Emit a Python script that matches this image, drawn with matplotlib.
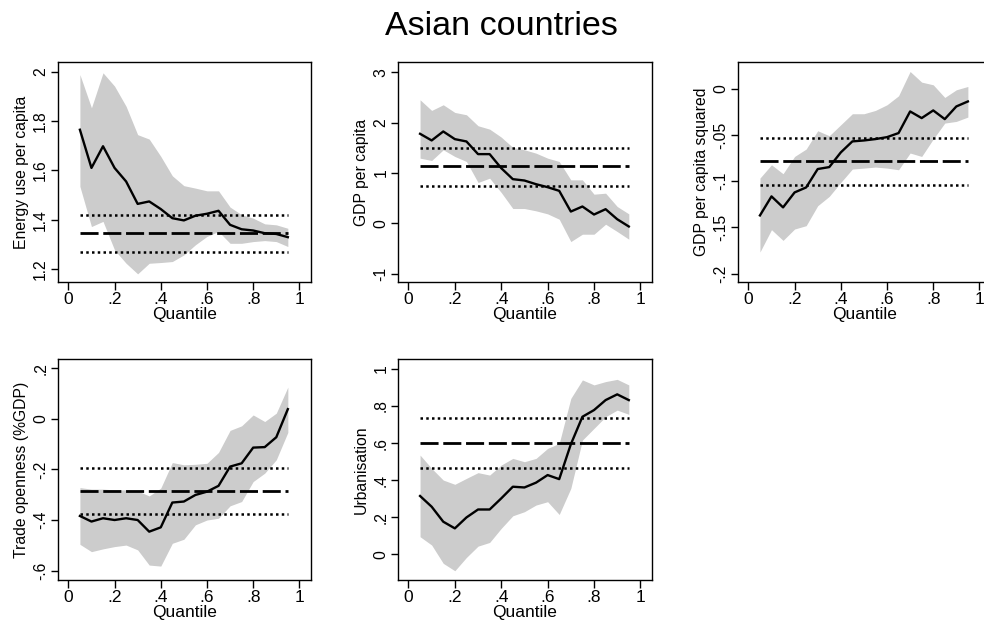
import matplotlib
matplotlib.use("Agg")
import matplotlib.pyplot as plt
import numpy as np

plt.rcParams['font.family'] = ['Liberation Sans', 'DejaVu Sans']

quantiles = [0.05, 0.10, 0.15, 0.20, 0.25, 0.30, 0.35, 0.40, 0.45, 0.50,
             0.55, 0.60, 0.65, 0.70, 0.75, 0.80, 0.85, 0.90, 0.95]

# Panel 1: Energy use per capita
energy_coef = [1.765, 1.61, 1.698, 1.61, 1.555, 1.464, 1.474, 1.443, 1.406, 1.397,
               1.416, 1.424, 1.436, 1.379, 1.361, 1.356, 1.345, 1.342, 1.329]
energy_hi = [1.989, 1.854, 1.996, 1.942, 1.86, 1.745, 1.727, 1.657, 1.578, 1.538,
             1.528, 1.517, 1.517, 1.451, 1.42, 1.406, 1.383, 1.379, 1.365]
energy_lo = [1.535, 1.372, 1.393, 1.277, 1.223, 1.18, 1.223, 1.226, 1.23, 1.257,
             1.298, 1.332, 1.352, 1.304, 1.304, 1.311, 1.315, 1.311, 1.291]
energy_ols = [1.268, 1.345, 1.42]

# Panel 2: GDP per capita
gdp_coef = [1.777, 1.645, 1.823, 1.671, 1.625, 1.374, 1.374, 1.096, 0.878, 0.851,
            0.778, 0.719, 0.646, 0.236, 0.336, 0.177, 0.283, 0.084, -0.06]
gdp_hi = [2.451, 2.24, 2.352, 2.2, 2.154, 1.936, 1.869, 1.711, 1.506, 1.46,
          1.393, 1.294, 1.228, 0.864, 0.864, 0.58, 0.6, 0.336, 0.19]
gdp_lo = [1.294, 1.248, 1.46, 1.327, 1.228, 0.812, 0.897, 0.613, 0.296, 0.296,
          0.25, 0.19, 0.084, -0.359, -0.213, -0.213, -0.015, -0.16, -0.312]
gdp_ols = [0.745, 1.129, 1.493]

# Panel 3: GDP per capita squared
gdp2_coef = [-0.137, -0.1164, -0.1283, -0.1121, -0.1067, -0.0868, -0.0847, -0.0688, -0.0569, -0.0559,
             -0.0544, -0.0523, -0.0479, -0.0245, -0.0317, -0.0234, -0.0328, -0.0191, -0.0137]
gdp2_hi = [-0.0966, -0.0822, -0.0919, -0.0732, -0.0652, -0.0454, -0.0508, -0.0389, -0.027, -0.027,
           -0.0234, -0.0173, -0.0076, 0.0187, 0.0072, 0.0043, -0.0094, -0.0011, 0.0025]
gdp2_lo = [-0.1766, -0.1524, -0.164, -0.1517, -0.1481, -0.1265, -0.1164, -0.1013, -0.0868, -0.0858,
           -0.0847, -0.0858, -0.0876, -0.0695, -0.0732, -0.0544, -0.0371, -0.0353, -0.0306]
gdp2_ols = [-0.1038, -0.0786, -0.0533]

# Panel 4: Trade openness (%GDP)
trade_coef = [-0.384, -0.406, -0.393, -0.4, -0.393, -0.4, -0.446, -0.429, -0.331, -0.327,
              -0.301, -0.288, -0.265, -0.189, -0.176, -0.114, -0.112, -0.073, 0.038]
trade_hi = [-0.272, -0.278, -0.278, -0.281, -0.281, -0.285, -0.305, -0.274, -0.173, -0.182,
            -0.18, -0.176, -0.133, -0.046, -0.028, 0.015, -0.011, 0.022, 0.125]
trade_lo = [-0.496, -0.525, -0.514, -0.505, -0.499, -0.518, -0.578, -0.582, -0.492, -0.476,
            -0.419, -0.4, -0.393, -0.344, -0.327, -0.248, -0.215, -0.162, -0.054]
trade_ols = [-0.376, -0.285, -0.193]

# Panel 5: Urbanisation
urb_coef = [0.314, 0.256, 0.175, 0.139, 0.198, 0.241, 0.241, 0.301, 0.364, 0.36,
            0.386, 0.427, 0.405, 0.593, 0.742, 0.778, 0.832, 0.863, 0.832]
urb_hi = [0.535, 0.463, 0.4, 0.377, 0.409, 0.44, 0.427, 0.481, 0.517, 0.499,
          0.517, 0.571, 0.598, 0.841, 0.941, 0.914, 0.932, 0.944, 0.914]
urb_lo = [0.094, 0.049, -0.05, -0.09, -0.018, 0.043, 0.063, 0.139, 0.207, 0.229,
          0.265, 0.283, 0.214, 0.355, 0.616, 0.679, 0.742, 0.778, 0.755]
urb_ols = [0.463, 0.598, 0.733]

x_ticks = [0, 0.2, 0.4, 0.6, 0.8, 1.0]
x_ticklabels = ["0", ".2", ".4", ".6", ".8", "1"]

panels = [
    dict(label="Energy use per capita", coef=energy_coef, hi=energy_hi, lo=energy_lo, ols=energy_ols,
         yticks=[1.2, 1.4, 1.6, 1.8, 2.0], yticklabels=["1.2", "1.4", "1.6", "1.8", "2"],
         ylim=(1.147, 2.04), pos=[0.0589, 0.5459, 0.2571, 0.3543]),
    dict(label="GDP per capita", coef=gdp_coef, hi=gdp_hi, lo=gdp_lo, ols=gdp_ols,
         yticks=[-1, 0, 1, 2, 3], yticklabels=["-1", "0", "1", "2", "3"],
         ylim=(-1.16, 3.2), pos=[0.4045, 0.5459, 0.2581, 0.3543]),
    dict(label="GDP per capita squared", coef=gdp2_coef, hi=gdp2_hi, lo=gdp2_lo, ols=gdp2_ols,
         yticks=[-0.2, -0.15, -0.1, -0.05, 0], yticklabels=["-.2", "-.15", "-.1", "-.05", "0"],
         ylim=(-0.209, 0.029), pos=[0.750, 0.5459, 0.2571, 0.3543]),
    dict(label="Trade openness (%GDP)", coef=trade_coef, hi=trade_hi, lo=trade_lo, ols=trade_ols,
         yticks=[-0.6, -0.4, -0.2, 0, 0.2], yticklabels=["-.6", "-.4", "-.2", "0", ".2"],
         ylim=(-0.637, 0.236), pos=[0.0589, 0.066, 0.2571, 0.3559]),
    dict(label="Urbanisation", coef=urb_coef, hi=urb_hi, lo=urb_lo, ols=urb_ols,
         yticks=[0, 0.2, 0.4, 0.6, 0.8, 1.0], yticklabels=["0", ".2", ".4", ".6", ".8", "1"],
         ylim=(-0.14, 1.054), pos=[0.4045, 0.066, 0.2581, 0.3559]),
]

fig = plt.figure(figsize=(9.84, 6.21), dpi=100)
fig.patch.set_facecolor("white")

fs_x = 12.5
fs_y = 11.3
for p in panels:
    ax = fig.add_axes(p["pos"])
    q = np.array(quantiles)
    ax.fill_between(q, p["lo"], p["hi"], color="#cccccc", linewidth=0, zorder=1)
    ax.plot(q, p["coef"], color="black", linewidth=1.7, zorder=3)
    lo, mid, hi = p["ols"]
    ax.hlines([mid], q[0], q[-1], colors="black", linestyles=(0, (6.5, 1.7)), linewidth=2.0, zorder=2)
    ax.hlines([lo, hi], q[0], q[-1], colors="black", linestyles=(0, (1, 1.3)), linewidth=1.8, zorder=2)
    ax.set_xlim(-0.045, 1.05)
    ax.set_ylim(*p["ylim"])
    ax.set_xticks(x_ticks)
    ax.set_xticklabels(x_ticklabels, fontsize=fs_x)
    ax.set_yticks(p["yticks"])
    ax.set_yticklabels(p["yticklabels"], fontsize=fs_y, rotation=90, va="center")
    ax.set_xlabel("Quantile", fontsize=fs_x, labelpad=0)
    ax.set_ylabel(p["label"], fontsize=fs_y, labelpad=3)
    ax.tick_params(axis="x", direction="out", length=6, width=1, color="black", pad=1)
    ax.tick_params(axis="y", direction="out", length=5, width=1, color="black", pad=2)
    for s in ax.spines.values():
        s.set_linewidth(1)
        s.set_color("black")

fig.text(0.5095, 0.958, "Asian countries", ha="center", va="center", fontsize=24.5)

fig.savefig("out.png", dpi=100, facecolor="white")
